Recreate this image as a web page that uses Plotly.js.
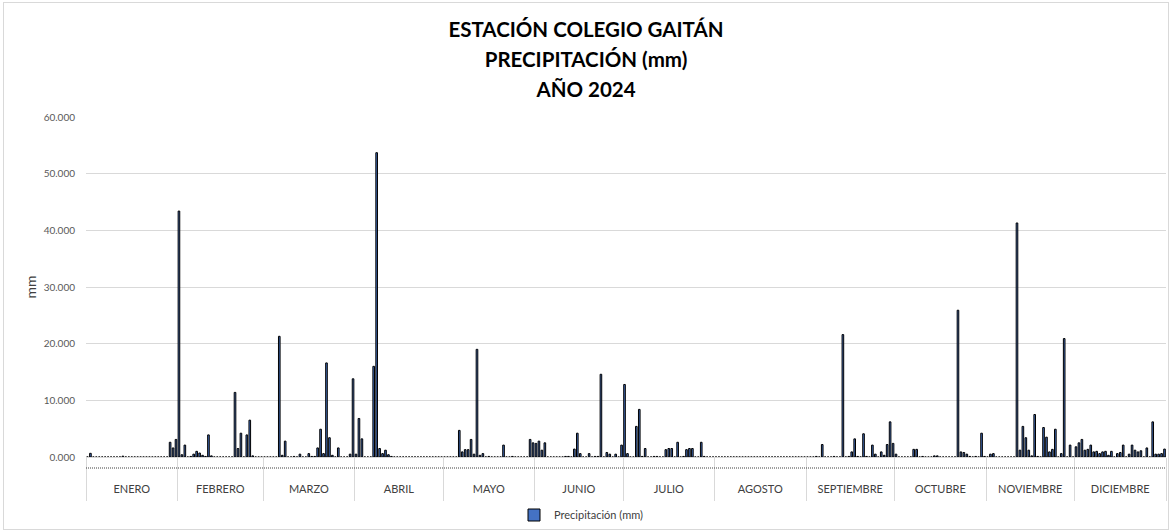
<!DOCTYPE html>
<html>
<head>
<meta charset="utf-8">
<script src="https://cdn.plot.ly/plotly-3.0.1.min.js"></script>
<style>
  html, body { margin: 0; padding: 0; background: #fff; }
  #wrap { position: relative; width: 1172px; height: 531px; }
  #chart { width: 1172px; height: 531px; }
  #frame { position: absolute; left: 3px; top: 2px; width: 1164px; height: 526px; border: 1px solid #d9d9d9; pointer-events: none; }
</style>
</head>
<body>
<div id="wrap"><div id="chart"></div><div id="frame"></div></div>
<script>
// Month labels (category groups)
const meses = ['ENERO','FEBRERO','MARZO','ABRIL','MAYO','JUNIO','JULIO','AGOSTO','SEPTIEMBRE','OCTUBRE','NOVIEMBRE','DICIEMBRE'];

// Daily precipitation (mm), one array per month
const ene = [0,0.65,0,0,0,0,0,0,0,0,0,0,0.15,0,0,0,0,0,0,0,0,0,0,0,0,0,0,0,2.6,1.6,3.1];
const feb = [43.4,0.4,2.1,0,0.1,0.5,1.0,0.7,0.3,0.1,3.9,0.2,0,0,0,0,0,0,0,11.4,1.5,4.2,0,3.9,6.5,0.2,0,0,0];
const mar = [0,0,0,0,0,21.3,0.3,2.8,0,0,0.1,0,0.5,0,0,0.6,0.1,0.1,1.6,4.9,0.6,16.6,3.4,0.3,0,1.6,0,0,0,0.5,13.8];
const abr = [0.5,6.8,3.2,0,0,0,16.0,53.7,1.5,0.6,1.2,0.4,0.1,0,0,0,0,0,0,0,0,0,0,0,0,0,0,0,0,0];
const may = [0,0,0,0,0,4.7,0.9,1.3,1.3,3.1,0.5,19.0,0.3,0.6,0,0.1,0,0,0,0,2.1,0,0,0.1,0,0,0,0,0,3.1,2.5];
const jun = [2.4,2.8,1.2,2.5,0,0,0,0,0,0,0.1,0.1,0,1.4,4.2,0.6,0,0,0.6,0,0.1,0.1,14.6,0,0.8,0.5,0,0.5,0,2.1];
const jul = [12.8,0.6,0,0,5.4,8.4,0.1,1.5,0,0,0.1,0.1,0,0,1.3,1.5,1.5,0,2.6,0,0.1,1.3,1.5,1.5,0,0,2.6,0.1,0,0,0];
const ago = [0,0,0,0,0,0,0,0,0,0,0,0,0,0,0,0,0,0,0,0,0,0,0,0,0,0,0,0,0,0,0];
const sep = [0,0,0,0.1,0,2.2,0,0,0,0.1,0,0,21.6,0,0.1,0.9,3.2,0.1,0,4.1,0.1,0,2.1,0.5,0,0.9,0.3,2.2,6.2,2.4];
const oct = [0.5,0,0,0,0,0,1.35,1.35,0,0.1,0,0,0,0.2,0.2,0,0,0,0,0,0,25.9,0.9,0.8,0.5,0.1,0,0.1,0,4.2,0.1];
const nov = [0,0.5,0.6,0,0,0,0,0,0,0,41.3,1.2,5.4,3.4,1.2,0.2,7.5,0.1,0,5.2,3.5,0.9,1.35,4.9,0,0.6,20.9,0,2.1,0];
const dic = [1.8,2.5,3.1,1.2,1.35,2.1,0.9,1.0,0.6,0.9,1.0,0.3,1.0,0,0.6,0.8,2.1,0,0.5,2.1,1.2,0.9,1.1,0,1.6,0,6.2,0.5,0.5,0.6,1.4];

const serie = 'Precipitación (mm)';
const porMes = [ene,feb,mar,abr,may,jun,jul,ago,sep,oct,nov,dic];

// Build day-of-year positions and month group positions from the arrays
const x = [], y = [], centros = [], limites = [0.5];
let dia = 0;
porMes.forEach(m => {
  const inicio = dia + 1;
  m.forEach(v => { dia += 1; x.push(dia); y.push(v); });
  centros.push((inicio + dia) / 2);
  limites.push(dia + 0.5);
});

const FONT = 'Lato, "Open Sans", sans-serif';

const trace = {
  type: 'bar',
  x: x,
  y: y,
  name: serie,
  marker: { color: '#4472C4', line: { color: '#000000', width: 1 } },
  showlegend: true,
  hoverinfo: 'x+y'
};

const layout = {
  width: 1172,
  height: 531,
  paper_bgcolor: '#ffffff',
  plot_bgcolor: '#ffffff',
  margin: { l: 86, r: 6, t: 117, b: 74 },
  font: { family: FONT, color: '#595959', size: 10 },
  bargap: 0.45,
  title: {
    text: '<span style="font-size:20.5px">ESTACIÓN COLEGIO GAITÁN</span><br><span style="font-size:20.5px">PRECIPITACIÓN (mm)</span><br><span style="font-size:20.5px">AÑO 2024</span>',
    font: { family: FONT, size: 23, color: '#000000', weight: 'bold' },
    x: 0.5, xanchor: 'center',
    yref: 'container', y: 1 - 37 / 531, yanchor: 'top'
  },
  xaxis: {
    type: 'linear',
    range: [0.5, dia + 0.5],
    tickmode: 'array',
    tickvals: centros,
    ticktext: meses,
    ticks: '',
    ticklabelstandoff: 22,
    tickfont: { family: FONT, size: 11, color: '#404040' },
    showgrid: false,
    zeroline: false,
    showline: true,
    linecolor: '#d9d9d9',
    linewidth: 1,
    automargin: false,
    minor: {
      tickmode: 'array',
      tickvals: limites,
      ticks: 'outside',
      ticklen: 43,
      tickcolor: '#d9d9d9',
      tickwidth: 1,
      showgrid: false
    },
    fixedrange: true
  },
  yaxis: {
    range: [0, 60],
    tickmode: 'linear',
    tick0: 0,
    dtick: 10,
    tickformat: '.3f',
    ticks: '',
    ticklabelstandoff: 10,
    tickfont: { family: FONT, size: 10, color: '#595959' },
    showgrid: true,
    gridcolor: '#d9d9d9',
    gridwidth: 1,
    zeroline: false,
    showline: false,
    automargin: false,
    title: { text: 'mm', font: { family: FONT, size: 14, color: '#404040' }, standoff: 3 },
    fixedrange: true
  },
  legend: {
    orientation: 'h',
    x: (514 - 86) / 1080, xanchor: 'left',
    yref: 'container', y: 16 / 531, yanchor: 'middle',
    font: { family: FONT, size: 11, color: '#404040' },
    itemwidth: 30
  },
  shapes: [
    {
      type: 'line', xref: 'paper', yref: 'paper',
      x0: 0, x1: 1, y0: -11 / 340, y1: -11 / 340,
      line: { color: '#404040', width: 1, dash: '1px,1px' }
    }
  ]
};

Plotly.newPlot('chart', [trace], layout, { displayModeBar: false, staticPlot: true });
</script>
</body>
</html>
